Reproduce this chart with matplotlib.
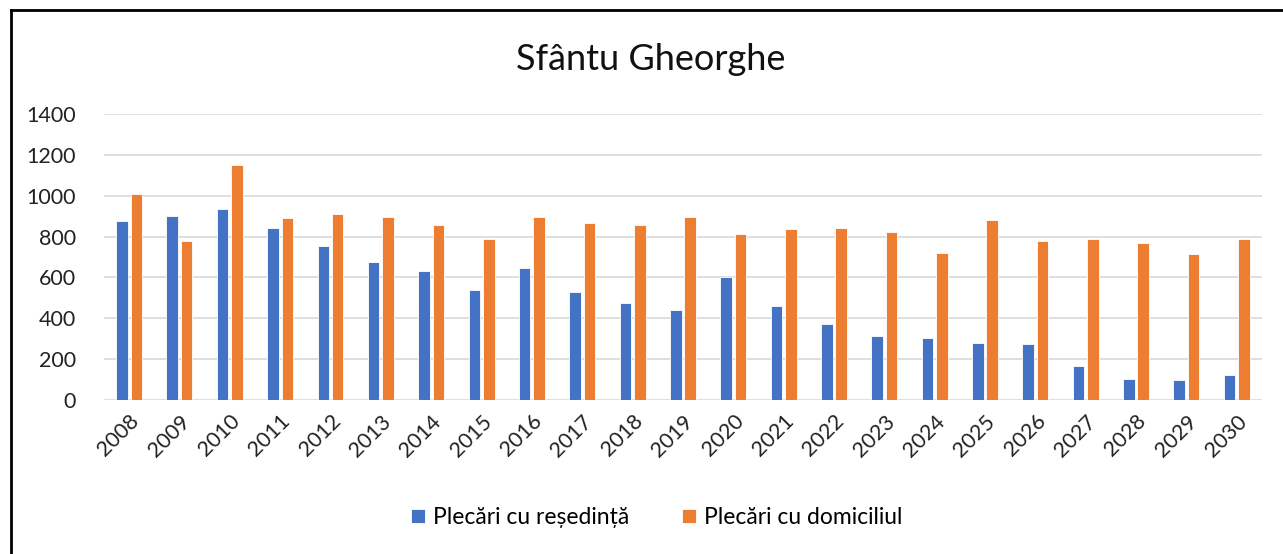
import matplotlib
matplotlib.use("Agg")
import matplotlib.pyplot as plt
from matplotlib.lines import Line2D
import numpy as np

plt.rcParams['font.family'] = ['Lato', 'DejaVu Sans']

years = [str(y) for y in range(2008, 2031)]
resedinta = [875, 902, 936, 841, 755, 675, 634, 539, 647, 528, 474, 440,
             601, 459, 371, 312, 306, 278, 273, 165, 105, 96, 124]
domiciliul = [1010, 781, 1150, 889, 910, 895, 856, 789, 895, 869, 856, 895,
              815, 837, 843, 822, 721, 882, 781, 789, 768, 714, 789]

blue = '#4472C4'
orange = '#ED7D31'

fig = plt.figure(figsize=(12.83, 5.54), dpi=100)
ax = fig.add_axes([0.081, 0.278, 0.9026, 0.516])

x = np.arange(len(years))
w = 0.23
ax.bar(x - 0.143, resedinta, w, color=blue, edgecolor='white', linewidth=0.6,
       label='Plecări cu reședință', zorder=3)
ax.bar(x + 0.143, domiciliul, w, color=orange, edgecolor='white', linewidth=0.6,
       label='Plecări cu domiciliul', zorder=3)

ax.set_xlim(-0.5, len(years) - 0.5)
ax.set_ylim(0, 1400)
ax.set_yticks(range(0, 1401, 200))
ax.set_xticks(x)
ax.set_xticklabels(years, rotation=45, ha='right', rotation_mode='anchor')
ax.tick_params(axis='both', length=0, labelsize=15.5, colors='#222222')
ax.tick_params(axis='y', pad=20)
ax.tick_params(axis='x', pad=8)
ax.grid(axis='y', color='#d9d9d9', linewidth=1.2, zorder=0)
for s in ax.spines.values():
    s.set_visible(False)

fig.text(0.507, 0.893, 'Sfântu Gheorghe', ha='center', va='center', fontsize=26,
         color='#111111')

fig.legend(loc='center', bbox_to_anchor=(0.512, 0.066), ncol=2, frameon=False,
           fontsize=16.5, handlelength=0.6, handleheight=0.6, handletextpad=0.35,
           columnspacing=2.3)

# left/top border of the cropped chart frame
fig.add_artist(Line2D([0.0085, 0.0085], [0, 0.982], color='black', linewidth=2,
                      transform=fig.transFigure))
fig.add_artist(Line2D([0.0085, 1.0], [0.982, 0.982], color='black', linewidth=2,
                      transform=fig.transFigure))

fig.savefig('out.png', dpi=100, facecolor='white')
